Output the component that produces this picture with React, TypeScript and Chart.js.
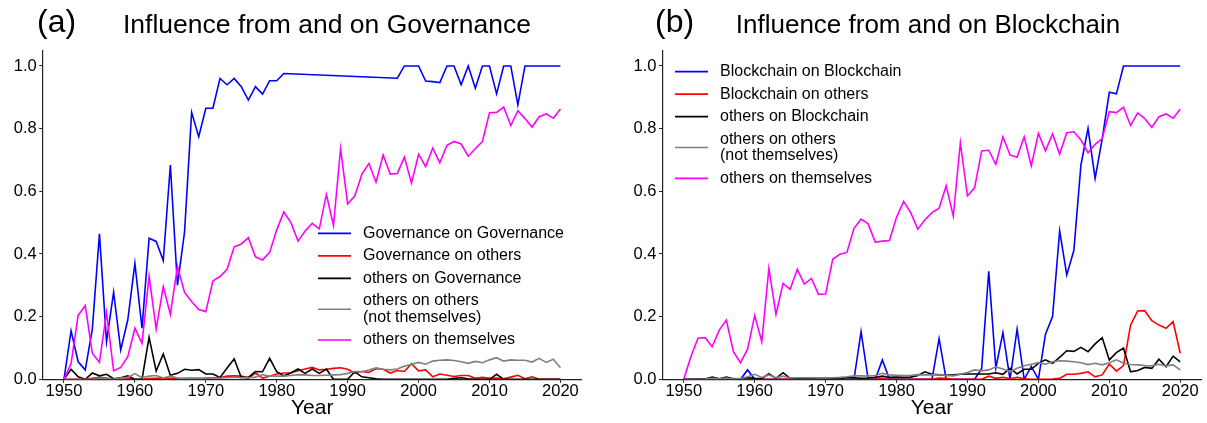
import React, { useEffect, useRef } from 'react';
import { Chart, registerables } from 'chart.js';
Chart.register(...registerables);

const FONT = '"Liberation Sans", Arial, Helvetica, sans-serif';

const years = [
  1950, 1951, 1952, 1953, 1954, 1955, 1956, 1957, 1958, 1959,
  1960, 1961, 1962, 1963, 1964, 1965, 1966, 1967, 1968, 1969,
  1970, 1971, 1972, 1973, 1974, 1975, 1976, 1977, 1978, 1979,
  1980, 1981, 1982, 1983, 1984, 1985, 1986, 1987, 1988, 1989,
  1990, 1991, 1992, 1993, 1994, 1995, 1996, 1997, 1998, 1999,
  2000, 2001, 2002, 2003, 2004, 2005, 2006, 2007, 2008, 2009,
  2010, 2011, 2012, 2013, 2014, 2015, 2016, 2017, 2018, 2019, 2020,
];

const xTicks = [1950, 1960, 1970, 1980, 1990, 2000, 2010, 2020];
const yTicks = [0.0, 0.2, 0.4, 0.6, 0.8, 1.0];

// ---------- Panel (a): Governance ----------
const govOnGov = [
  0.0, 0.155, 0.056, 0.03, 0.16, 0.464, 0.12, 0.278, 0.094, 0.19,
  0.37, 0.163, 0.45, 0.44, 0.379, 0.684, 0.30, 0.47, 0.852, 0.774,
  0.865, 0.865, 0.96, 0.94, 0.96, 0.934, 0.891, 0.934, 0.91, 0.953,
  0.953, 0.976, null, null, null, null, null, null, null, null,
  null, null, null, null, null, null, null, 0.961, 1.0, 1.0,
  1.0, 0.952, 0.95, 0.947, 1.0, 1.0, 0.94, 1.0, 0.929, 1.0,
  1.0, 0.911, 1.0, 1.0, 0.876, 1.0, 1.0, 1.0, 1.0, 1.0, 1.0,
];
const govOnOthers = [
  0, 0, 0, 0, 0.003, 0.006, 0.004, 0, 0, 0.002,
  0, 0, 0.002, 0.003, 0.004, 0.003, 0.002, 0.002, 0.003, 0.002,
  0.004, 0.005, 0.005, 0.01, 0.011, 0.01, 0.004, 0.02, 0.004, 0.01,
  0.017, 0.02, 0.021, 0.027, 0.033, 0.038, 0.03, 0.032, 0.035, 0.037,
  0.032, 0.02, 0.025, 0.022, 0.034, 0.032, 0.02, 0.028, 0.025, 0.05,
  0.027, 0.03, 0.008, 0.017, 0.013, 0.009, 0.012, 0.012, 0.003, 0.006,
  0.003, 0.004, 0.002, 0.007, 0.013, 0.002, 0.008, 0, 0, 0, 0,
];
const othersOnGov = [
  0, 0.032, 0.008, 0, 0.02, 0.011, 0.016, 0.002, 0.005, 0.011,
  0, 0, 0.134, 0.026, 0.081, 0.013, 0.019, 0.032, 0.029, 0.031,
  0.017, 0.017, 0.006, 0.036, 0.065, 0.006, 0.006, 0.025, 0.024, 0.067,
  0.024, 0.011, 0.02, 0.033, 0.019, 0.033, 0.019, 0.033, 0, 0,
  0, 0.024, 0.008, 0.005, 0.002, 0, 0, 0, 0, 0,
  0, 0, 0, 0, 0, 0.003, 0.005, 0.002, 0, 0,
  0, 0.016, 0, 0, 0, 0, 0, 0, 0, 0, 0,
];
const othersOnOthersA = [
  0, 0, 0, 0, 0, 0.003, 0.002, 0, 0.004, 0.006,
  0.018, 0.005, 0.01, 0.012, 0.004, 0.01, 0.004, 0.003, 0.003, 0.004,
  0.003, 0.004, 0.004, 0.005, 0.007, 0.005, 0.005, 0.007, 0.015, 0.01,
  0.01, 0.01, 0.012, 0.015, 0.014, 0.012, 0.012, 0.013, 0.014, 0.015,
  0.019, 0.025, 0.024, 0.03, 0.037, 0.032, 0.03, 0.033, 0.042, 0.047,
  0.054, 0.048, 0.058, 0.061, 0.062, 0.06, 0.056, 0.051, 0.057, 0.053,
  0.062, 0.069, 0.058, 0.062, 0.061, 0.061, 0.055, 0.067, 0.054, 0.064, 0.037,
];
const othersOnThemselvesA = [
  0, 0.05, 0.204, 0.235, 0.083, 0.054, 0.213, 0.027, 0.038, 0.072,
  0.163, 0.115, 0.33, 0.16, 0.296, 0.207, 0.36, 0.277, 0.248, 0.223,
  0.216, 0.314, 0.328, 0.351, 0.423, 0.432, 0.452, 0.391, 0.381, 0.405,
  0.477, 0.534, 0.50, 0.441, 0.473, 0.498, 0.48, 0.59, 0.491, 0.736,
  0.56, 0.585, 0.654, 0.689, 0.629, 0.716, 0.655, 0.657, 0.709, 0.626,
  0.718, 0.679, 0.738, 0.691, 0.747, 0.759, 0.751, 0.712, 0.736, 0.759,
  0.851, 0.852, 0.869, 0.81, 0.857, 0.832, 0.805, 0.838, 0.847, 0.833, 0.863,
];

// ---------- Panel (b): Blockchain ----------
const bcOnBc = [
  0, 0, 0, 0, 0, 0, 0, 0, 0, 0.03,
  0, 0, 0, 0, 0, 0, 0, 0, 0, 0,
  0, 0, 0, 0, 0, 0.152, 0, 0, 0.062, 0,
  0, 0, 0, 0, 0, 0, 0.13, 0, 0, 0,
  0, 0, 0.034, 0.345, 0.036, 0.149, 0, 0.16, 0, 0.041,
  0, 0.144, 0.2, 0.474, 0.333, 0.411, 0.684, 0.801, 0.641, 0.767,
  0.916, 0.911, 1.0, 1.0, 1.0, 1.0, 1.0, 1.0, 1.0, 1.0, 1.0,
];
const bcOnOthers = [
  0, 0, 0, 0, 0, 0, 0, 0, 0, 0,
  0, 0, 0, 0, 0, 0, 0, 0, 0, 0,
  0, 0, 0, 0, 0, 0, 0, 0, 0.003, 0,
  0, 0, 0, 0, 0, 0, 0.004, 0.003, 0, 0,
  0, 0, 0, 0.01, 0.003, 0.006, 0.002, 0.006, 0.002, 0,
  0, 0, 0.001, 0.003, 0.016, 0.016, 0.019, 0.024, 0.008, 0.014,
  0.049, 0.026, 0.044, 0.173, 0.218, 0.219, 0.187, 0.173, 0.163, 0.184, 0.083,
];
const othersOnBc = [
  0, 0, 0.001, 0.001, 0.007, 0.002, 0.007, 0.002, 0.001, 0.005,
  0.003, 0.002, 0.018, 0.003, 0.021, 0.003, 0.003, 0.004, 0.003, 0.003,
  0.003, 0.002, 0.003, 0.005, 0.005, 0.003, 0.004, 0.006, 0.01, 0.006,
  0.007, 0.006, 0.007, 0.012, 0.024, 0.016, 0.014, 0.013, 0.014, 0.016,
  0.017, 0.017, 0.017, 0.017, 0.021, 0.016, 0.035, 0.017, 0.032, 0.032,
  0.051, 0.062, 0.051, 0.07, 0.091, 0.089, 0.102, 0.088, 0.113, 0.133,
  0.062, 0.085, 0.1, 0.024, 0.028, 0.038, 0.035, 0.064, 0.04, 0.074, 0.056,
];
const othersOnOthersB = [
  0, 0, 0, 0.001, 0.003, 0.002, 0.004, 0.001, 0.002, 0.008,
  0.016, 0.006, 0.014, 0.005, 0.01, 0.004, 0.005, 0.005, 0.005, 0.004,
  0.004, 0.005, 0.006, 0.008, 0.011, 0.011, 0.01, 0.012, 0.019, 0.014,
  0.013, 0.012, 0.013, 0.015, 0.014, 0.014, 0.015, 0.012, 0.011, 0.016,
  0.022, 0.03, 0.027, 0.03, 0.04, 0.033, 0.024, 0.035, 0.043, 0.048,
  0.053, 0.048, 0.056, 0.059, 0.058, 0.056, 0.053, 0.047, 0.051, 0.046,
  0.053, 0.062, 0.051, 0.047, 0.046, 0.044, 0.043, 0.048, 0.043, 0.046, 0.03,
];
const othersOnThemselvesB = [
  0, 0.072, 0.131, 0.133, 0.104, 0.157, 0.189, 0.088, 0.053, 0.096,
  0.204, 0.12, 0.354, 0.207, 0.306, 0.287, 0.351, 0.304, 0.322, 0.271,
  0.272, 0.383, 0.399, 0.405, 0.482, 0.511, 0.496, 0.438, 0.441, 0.443,
  0.517, 0.568, 0.532, 0.479, 0.509, 0.532, 0.546, 0.618, 0.521, 0.755,
  0.585, 0.611, 0.729, 0.731, 0.686, 0.774, 0.716, 0.709, 0.774, 0.681,
  0.785, 0.729, 0.784, 0.718, 0.787, 0.79, 0.764, 0.723, 0.75, 0.768,
  0.854, 0.851, 0.868, 0.81, 0.85, 0.832, 0.804, 0.838, 0.847, 0.833, 0.862,
];

const labelsA = [
  'Governance on Governance',
  'Governance on others',
  'others on Governance',
  'others on others\n(not themselves)',
  'others on themselves',
];
const labelsB = [
  'Blockchain on Blockchain',
  'Blockchain on others',
  'others on Blockchain',
  'others on others\n(not themselves)',
  'others on themselves',
];
const colors = ['#0000ff', '#ff0000', '#000000', '#808080', '#ff00ff'];

const seriesA = [govOnGov, govOnOthers, othersOnGov, othersOnOthersA, othersOnThemselvesA];
const seriesB = [bcOnBc, bcOnOthers, othersOnBc, othersOnOthersB, othersOnThemselvesB];

const decorPlugin = {
  id: 'panelDecor',
  afterDraw(chart: any, _args: any, opts: any) {
    const ctx = chart.ctx;
    const ca = chart.chartArea;
    ctx.save();
    ctx.fillStyle = '#000';
    ctx.textBaseline = 'middle';
    ctx.textAlign = 'left';
    ctx.font = `${opts.letterSize}px ${FONT}`;
    ctx.fillText(opts.letter, opts.letterX, opts.letterY);
    ctx.textAlign = 'center';
    ctx.font = `${opts.titleSize}px ${FONT}`;
    ctx.fillText(opts.title, opts.titleX, opts.titleY);
    ctx.font = `21px ${FONT}`;
    ctx.fillText('Year', (ca.left + ca.right) / 2, opts.xLabelY);

    // legend
    const LH = 16.7;
    const GAP = 5.8;
    ctx.font = `16px ${FONT}`;
    ctx.textAlign = 'left';
    const x0 = ca.left + opts.legendX;
    let cursor = ca.top + opts.legendY;
    chart.data.datasets.forEach((ds: any) => {
      const lines = String(ds.label).split('\n');
      const h = lines.length * LH;
      const cy = cursor + h / 2;
      ctx.strokeStyle = ds.borderColor;
      ctx.lineWidth = 1.6;
      ctx.beginPath();
      ctx.moveTo(x0, cy);
      ctx.lineTo(x0 + 33, cy);
      ctx.stroke();
      lines.forEach((ln: string, k: number) => {
        ctx.fillText(ln, x0 + 45, cursor + LH * (k + 0.5));
      });
      cursor += h + GAP;
    });
    ctx.restore();
  },
};

function makeConfig(series: (number | null)[][], labels: string[], deco: any, pad: any) {
  return {
    type: 'line' as const,
    data: {
      datasets: series.map((vals, i) => ({
        label: labels[i],
        data: years.map((yr, j) => ({ x: yr, y: vals[j] })),
        borderColor: colors[i],
        backgroundColor: colors[i],
        borderWidth: 1.6,
        pointRadius: 0,
        pointHoverRadius: 0,
        tension: 0,
        spanGaps: true,
        order: series.length - i,
      })),
    },
    options: {
      responsive: false,
      animation: false,
      events: [],
      layout: { padding: { left: 0, right: pad.right, top: pad.top, bottom: 0 } },
      plugins: {
        legend: { display: false },
        tooltip: { enabled: false },
        title: { display: false },
        panelDecor: deco,
      },
      scales: {
        x: {
          type: 'linear',
          min: 1947,
          max: 2023,
          afterFit: (s: any) => { s.height = pad.xHeight; },
          afterBuildTicks: (s: any) => { s.ticks = xTicks.map((v) => ({ value: v })); },
          ticks: {
            color: '#000',
            font: { family: FONT, size: 16.5, lineHeight: 1 },
            padding: 0.5,
            maxRotation: 0,
            autoSkip: false,
            callback: (v: any) => String(v),
          },
          grid: { display: true, drawOnChartArea: false, drawTicks: true, tickLength: 3.5, color: '#222', lineWidth: 1 },
          border: { display: true, color: '#222', width: 1.2 },
        },
        y: {
          type: 'linear',
          min: 0,
          max: 1.05,
          afterFit: (s: any) => { s.width = pad.yWidth; },
          afterBuildTicks: (s: any) => { s.ticks = yTicks.map((v) => ({ value: v })); },
          ticks: {
            color: '#000',
            font: { family: FONT, size: 16.5 },
            padding: 2.5,
            autoSkip: false,
            callback: (v: any) => Number(v).toFixed(1),
          },
          grid: { display: true, drawOnChartArea: false, drawTicks: true, tickLength: 3.5, color: '#222', lineWidth: 1 },
          border: { display: true, color: '#222', width: 1.2 },
        },
      },
    },
    plugins: [decorPlugin],
  };
}

function Panel(props: { left: number; width: number; config: any }) {
  const ref = useRef<HTMLCanvasElement | null>(null);
  useEffect(() => {
    if (!ref.current) return;
    const chart = new Chart(ref.current, props.config);
    return () => chart.destroy();
  }, []);
  return (
    <canvas
      ref={ref}
      width={props.width}
      height={423}
      style={{ position: 'absolute', left: props.left, top: 0, width: props.width, height: 423 }}
    />
  );
}

const configA = makeConfig(
  seriesA,
  labelsA,
  {
    letter: '(a)', letterSize: 32, letterX: 37, letterY: 23,
    title: 'Influence from and on Governance', titleSize: 26.5, titleX: 327, titleY: 26,
    xLabelY: 408, legendX: 275.3, legendY: 174.7,
  },
  { right: 603 - 581.7, top: 50.3, xHeight: 423 - 379.3, yWidth: 42.7 },
);

const configB = makeConfig(
  seriesB,
  labelsB,
  {
    letter: '(b)', letterSize: 32, letterX: 52, letterY: 23,
    title: 'Influence from and on Blockchain', titleSize: 26, titleX: 325, titleY: 26,
    xLabelY: 408, legendX: 12.5, legendY: 13.0,
  },
  { right: 604 - 598.5, top: 50.3, xHeight: 423 - 379.3, yWidth: 59.5 },
);

export default function App() {
  return (
    <div style={{ position: 'absolute', left: 0, top: 0, width: 1207, height: 423, background: '#fff', overflow: 'hidden' }}>
      <Panel left={0} width={603} config={configA} />
      <Panel left={603} width={604} config={configB} />
    </div>
  );
}
